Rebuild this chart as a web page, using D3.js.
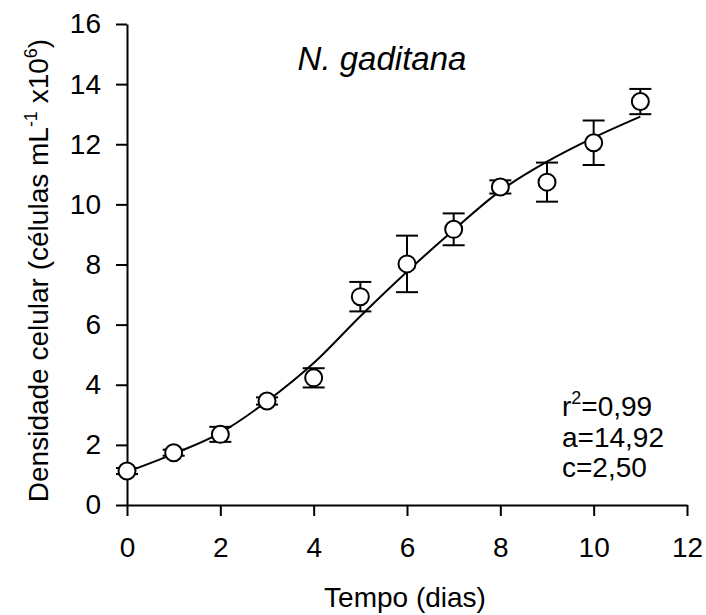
<!DOCTYPE html>
<html>
<head>
<meta charset="utf-8">
<script src="https://cdn.jsdelivr.net/npm/d3@7"></script>
<style>
  html, body { margin: 0; padding: 0; background: #fff; }
  svg { display: block; font-family: Arial, "Liberation Sans", sans-serif; }
</style>
</head>
<body>
<svg id="chart" width="706" height="615"></svg>
<script>
// Culture days and mean cell density (cells mL^-1 x10^6) with standard deviation
const days = [0, 1, 2, 3, 4, 5, 6, 7, 8, 9, 10, 11];
const density = [1.13, 1.74, 2.35, 3.46, 4.23, 6.93, 8.02, 9.17, 10.58, 10.74, 12.05, 13.42];
const densityErr = [0.10, 0.10, 0.25, 0.12, 0.32, 0.49, 0.94, 0.53, 0.22, 0.65, 0.74, 0.42];

// Fitted growth curve, sampled per day
const fitDays = [0, 1, 2, 3, 4, 5, 6, 7, 8, 9, 10, 11];
const fitDensity = [1.10, 1.70, 2.40, 3.45, 4.72, 6.28, 7.76, 9.15, 10.45, 11.42, 12.22, 12.92];

const xTicks = [0, 2, 4, 6, 8, 10, 12];
const yTicks = [0, 2, 4, 6, 8, 10, 12, 14, 16];
const fitStats = ["=0,99", "a=14,92", "c=2,50"];

const svg = d3.select("#chart");
const x = d3.scaleLinear().domain([0, 12]).range([127, 687]);
const y = d3.scaleLinear().domain([0, 16]).range([505, 24]);

const xAxis = svg.append("g")
  .attr("transform", `translate(0,${y(0)})`)
  .call(d3.axisBottom(x).tickValues(xTicks).tickSize(11).tickPadding(21).tickSizeOuter(0));
const yAxis = svg.append("g")
  .attr("transform", `translate(${x(0)},0)`)
  .call(d3.axisLeft(y).tickValues(yTicks).tickSize(11).tickPadding(15).tickSizeOuter(0));

[xAxis, yAxis].forEach(g => {
  g.select(".domain").attr("stroke", "#000").attr("stroke-width", 2);
  g.selectAll(".tick line").attr("stroke", "#000").attr("stroke-width", 2);
  g.selectAll(".tick text").attr("fill", "#000").style("font-size", "28px")
    .style("font-family", "Arial, 'Liberation Sans', sans-serif");
});

// fitted curve
svg.append("path")
  .datum(fitDays.map((d, i) => [d, fitDensity[i]]))
  .attr("fill", "none")
  .attr("stroke", "#000")
  .attr("stroke-width", 2)
  .attr("d", d3.line().x(d => x(d[0])).y(d => y(d[1])).curve(d3.curveMonotoneX));

// error bars
const capHalf = 11;
const bars = svg.append("g").attr("stroke", "#000").attr("stroke-width", 2);
days.forEach((d, i) => {
  const cx = x(d);
  const top = y(density[i] + densityErr[i]);
  const bot = y(density[i] - densityErr[i]);
  bars.append("line").attr("x1", cx).attr("x2", cx).attr("y1", top).attr("y2", bot);
  bars.append("line").attr("x1", cx - capHalf).attr("x2", cx + capHalf).attr("y1", top).attr("y2", top);
  bars.append("line").attr("x1", cx - capHalf).attr("x2", cx + capHalf).attr("y1", bot).attr("y2", bot);
});

// mean markers
svg.append("g").selectAll("circle")
  .data(days)
  .join("circle")
  .attr("cx", d => x(d))
  .attr("cy", (d, i) => y(density[i]))
  .attr("r", 8.5)
  .attr("fill", "#fff")
  .attr("stroke", "#000")
  .attr("stroke-width", 2);

// species name
svg.append("text")
  .attr("x", 382).attr("y", 70)
  .attr("text-anchor", "middle")
  .style("font-size", "33px")
  .style("font-style", "italic")
  .text("N. gaditana");

// fit statistics
const stats = svg.append("g").style("font-size", "28px");
const r2 = stats.append("text").attr("x", 562).attr("y", 416);
r2.append("tspan").text("r");
r2.append("tspan").attr("dy", -12).style("font-size", "18px").text("2");
r2.append("tspan").attr("dy", 12).text(fitStats[0]);
stats.append("text").attr("x", 562).attr("y", 447).text(fitStats[1]);
stats.append("text").attr("x", 562).attr("y", 477).text(fitStats[2]);

// axis titles
svg.append("text")
  .attr("x", 405).attr("y", 607)
  .attr("text-anchor", "middle")
  .style("font-size", "28px")
  .text("Tempo (dias)");

const yt = svg.append("text")
  .attr("transform", `translate(48,${y(7.8)}) rotate(-90)`)
  .attr("text-anchor", "middle")
  .style("font-size", "28px");
yt.append("tspan").text("Densidade celular (células mL");
yt.append("tspan").attr("dy", -11).style("font-size", "18px").text("-1");
yt.append("tspan").attr("dy", 11).text(" x10");
yt.append("tspan").attr("dy", -11).style("font-size", "18px").text("6");
yt.append("tspan").attr("dy", 11).text(")");
</script>
</body>
</html>
